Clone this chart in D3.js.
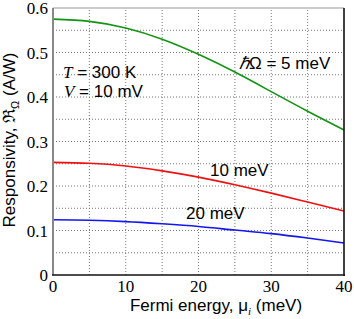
<!DOCTYPE html>
<html>
<head>
<meta charset="utf-8">
<script src="https://cdn.jsdelivr.net/npm/d3@7"></script>
<style>
  body { margin: 0; background: #fff; }
  svg { display: block; }
  .tick-label { font-family: "Liberation Serif", "DejaVu Serif", serif; font-size: 17px; fill: #000; }
  .label { font-family: "Liberation Sans", Arial, sans-serif; font-size: 17px; fill: #000; }
</style>
</head>
<body>
<div id="chart"></div>
<script>
// Fermi energy (meV)
const fermi = [0, 5, 10, 15, 20, 25, 30, 35, 40];
// Responsivity (A/W) for each photon energy
const resp5 = [0.575, 0.570, 0.555, 0.530, 0.496, 0.456, 0.412, 0.368, 0.326];
const resp10 = [0.253, 0.251, 0.245, 0.234, 0.220, 0.203, 0.184, 0.164, 0.144];
const resp20 = [0.124, 0.123, 0.120, 0.115, 0.109, 0.101, 0.093, 0.083, 0.072];

const xTicks = [0, 10, 20, 30, 40];
const yTicks = [0, 0.1, 0.2, 0.3, 0.4, 0.5, 0.6];
const xGrid = [5, 10, 15, 20, 25, 30, 35];
const yGrid = [0.05, 0.1, 0.15, 0.2, 0.25, 0.3, 0.35, 0.4, 0.45, 0.5, 0.55];

const width = 354, height = 319;
const margin = { left: 53, right: 10, top: 8, bottom: 44 };

const svg = d3.select('#chart').append('svg')
    .attr('width', width)
    .attr('height', height);

const x = d3.scaleLinear().domain([0, 40]).range([margin.left, width - margin.right]);
const y = d3.scaleLinear().domain([0, 0.6]).range([height - margin.bottom, margin.top]);

// dotted grid
svg.selectAll('.vgrid').data(xGrid).enter().append('line')
    .attr('x1', d => x(d)).attr('x2', d => x(d))
    .attr('y1', y(0)).attr('y2', y(0.6))
    .attr('stroke', '#777').attr('stroke-width', 1)
    .attr('stroke-dasharray', '1,2');
svg.selectAll('.hgrid').data(yGrid).enter().append('line')
    .attr('y1', d => y(d)).attr('y2', d => y(d))
    .attr('x1', x(0)).attr('x2', x(40))
    .attr('stroke', '#777').attr('stroke-width', 1)
    .attr('stroke-dasharray', '1,2');

// curves
const series = [
    { values: resp5, color: '#129412' },
    { values: resp10, color: '#f01010' },
    { values: resp20, color: '#1515ee' }
];
const line = d3.line()
    .x((d, i) => x(fermi[i]))
    .y(d => y(d))
    .curve(d3.curveNatural);
svg.selectAll('.curve').data(series).enter().append('path')
    .attr('fill', 'none')
    .attr('stroke', d => d.color)
    .attr('stroke-width', 1.6)
    .attr('d', d => line(d.values));

// frame
svg.append('line').attr('x1', x(0)).attr('x2', x(40)).attr('y1', y(0.6)).attr('y2', y(0.6))
    .attr('stroke', '#999').attr('stroke-width', 1);
svg.append('line').attr('x1', x(0)).attr('x2', x(0)).attr('y1', y(0.6)).attr('y2', y(0))
    .attr('stroke', '#888').attr('stroke-width', 2);
svg.append('line').attr('x1', x(40)).attr('x2', x(40)).attr('y1', y(0.6)).attr('y2', y(0) + 1)
    .attr('stroke', '#111').attr('stroke-width', 1.6);
svg.append('line').attr('x1', x(0) - 1).attr('x2', x(40) + 1).attr('y1', y(0)).attr('y2', y(0))
    .attr('stroke', '#111').attr('stroke-width', 1.6);

// tick labels
svg.selectAll('.xt').data(xTicks).enter().append('text')
    .attr('class', 'tick-label')
    .attr('x', d => x(d)).attr('y', y(0) + 17)
    .attr('text-anchor', 'middle')
    .text(d => d);
svg.selectAll('.yt').data(yTicks).enter().append('text')
    .attr('class', 'tick-label')
    .attr('x', x(0) - 5).attr('y', d => y(d) + 6)
    .attr('text-anchor', 'end')
    .text(d => d === 0 ? '0' : d3.format('.1f')(d));

// axis titles
const xt = svg.append('text').attr('class', 'label')
    .attr('x', 216).attr('y', 311).attr('text-anchor', 'middle');
xt.append('tspan').text('Fermi energy, \u03bc');
xt.append('tspan').attr('font-family', 'Liberation Serif, serif').attr('font-style', 'italic')
    .attr('font-size', 11).attr('dy', 4).text('i');
xt.append('tspan').attr('dy', -4).text(' (meV)');

const yt = svg.append('text').attr('class', 'label')
    .attr('transform', 'translate(15,' + 140 + ') rotate(-90)')
    .attr('text-anchor', 'middle');
yt.append('tspan').text('Responsivity, \u211c');
yt.append('tspan').attr('font-size', 11).attr('dy', 4).text('\u03a9');
yt.append('tspan').attr('dy', -4).text(' (A/W)');

// annotations
const t1 = svg.append('text').attr('class', 'label').attr('x', 63).attr('y', 78);
t1.append('tspan').attr('font-family', 'Liberation Serif, serif').attr('font-style', 'italic').text('T');
t1.append('tspan').text(' = 300 K');
const t2 = svg.append('text').attr('class', 'label').attr('x', 64).attr('y', 97);
t2.append('tspan').attr('font-family', 'Liberation Serif, serif').attr('font-style', 'italic').text('V');
t2.append('tspan').text(' = 10 mV');

const t3 = svg.append('text').attr('class', 'label').attr('x', 239).attr('y', 69);
t3.append('tspan').attr('font-family', 'Liberation Serif, serif').attr('font-style', 'italic').text('\u210f');
t3.append('tspan').text('\u03a9 = 5 meV');

svg.append('text').attr('class', 'label').attr('x', 210).attr('y', 176).text('10 meV');
svg.append('text').attr('class', 'label').attr('x', 186).attr('y', 219).text('20 meV');
</script>
</body>
</html>
